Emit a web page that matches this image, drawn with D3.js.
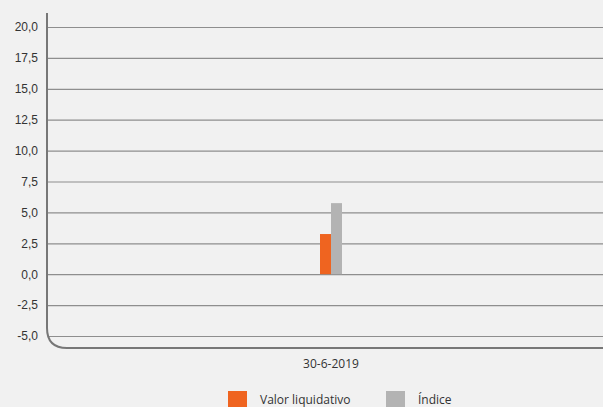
<!DOCTYPE html>
<html>
<head>
<meta charset="utf-8">
<script src="https://cdn.jsdelivr.net/npm/d3@7"></script>
<style>
  body { margin: 0; background: #f1f1f1; }
  svg { display: block; font-family: "Open Sans", "DejaVu Sans", sans-serif; }
</style>
</head>
<body>
<div id="chart"></div>
<script>
const categories = ['30-6-2019']
const seriesNames = ['Valor liquidativo', 'Índice']
const seriesColors = ['#ef6420', '#b3b3b3']
const valorLiquidativo = [3.25]
const indice = [5.75]
const yTicks = [-5, -2.5, 0, 2.5, 5, 7.5, 10, 12.5, 15, 17.5, 20]

const params = {
  width: 603,
  height: 407,
  left: 48,
  top: 27,
  bottom: 336,
  right: 614,
}

const svg = d3.select('#chart')
  .append('svg')
  .attr('width', params.width)
  .attr('height', params.height)

svg.append('rect')
  .attr('width', params.width)
  .attr('height', params.height)
  .attr('fill', '#f1f1f1')

const y = d3.scaleLinear()
  .domain([-5, 20])
  .range([params.bottom, params.top])

const x = d3.scaleBand()
  .domain(categories)
  .range([params.left, params.right])

const xInner = d3.scaleBand()
  .domain(seriesNames)
  .range([0, 22])

// gridlines + tick labels (comma decimals, plain hyphen for minus)
const yAxis = d3.axisLeft(y)
  .tickValues(yTicks)
  .tickSize(-(params.right - params.left))
  .tickPadding(10)
  .tickFormat(d => d3.format('.1f')(d).replace('.', ',').replace('\u2212', '-'))

const gy = svg.append('g')
  .attr('transform', `translate(${params.left},0)`)
  .call(yAxis)

gy.select('.domain').remove()
gy.selectAll('.tick line')
  .attr('stroke', '#8e8e8e')
  .attr('stroke-width', 1.2)
gy.selectAll('.tick text')
  .attr('fill', '#333')
  .attr('font-size', 12)

// left axis + bottom frame with rounded corner
const r = 20
svg.append('path')
  .attr('d', `M47,13 V${348 - r} Q47,348 ${47 + r},348 H${params.width}`)
  .attr('fill', 'none')
  .attr('stroke', '#777')
  .attr('stroke-width', 2)

// bars
const series = [valorLiquidativo, indice]

series.forEach((vals, i) => {
  svg.selectAll('.bar' + i)
    .data(vals)
    .enter()
    .append('rect')
    .attr('x', (d, j) => x(categories[j]) + x.bandwidth() / 2 - 11 + xInner(seriesNames[i]))
    .attr('width', xInner.bandwidth())
    .attr('y', d => y(Math.max(0, d)))
    .attr('height', d => Math.abs(y(d) - y(0)))
    .attr('fill', seriesColors[i])
})

// category label
svg.selectAll('.cat')
  .data(categories)
  .enter()
  .append('text')
  .attr('x', d => x(d) + x.bandwidth() / 2)
  .attr('y', 368)
  .attr('text-anchor', 'middle')
  .attr('font-size', 12)
  .attr('fill', '#333')
  .text(d => d)

// legend
const legendX = [228, 386]
const legend = svg.selectAll('.legend')
  .data(seriesNames)
  .enter()
  .append('g')
  .attr('transform', (d, i) => `translate(${legendX[i]},391)`)

legend.append('rect')
  .attr('width', 19)
  .attr('height', 19)
  .attr('fill', (d, i) => seriesColors[i])

legend.append('text')
  .attr('x', 32)
  .attr('y', 13)
  .attr('font-size', 12)
  .attr('fill', '#333')
  .text(d => d)
</script>
</body>
</html>
